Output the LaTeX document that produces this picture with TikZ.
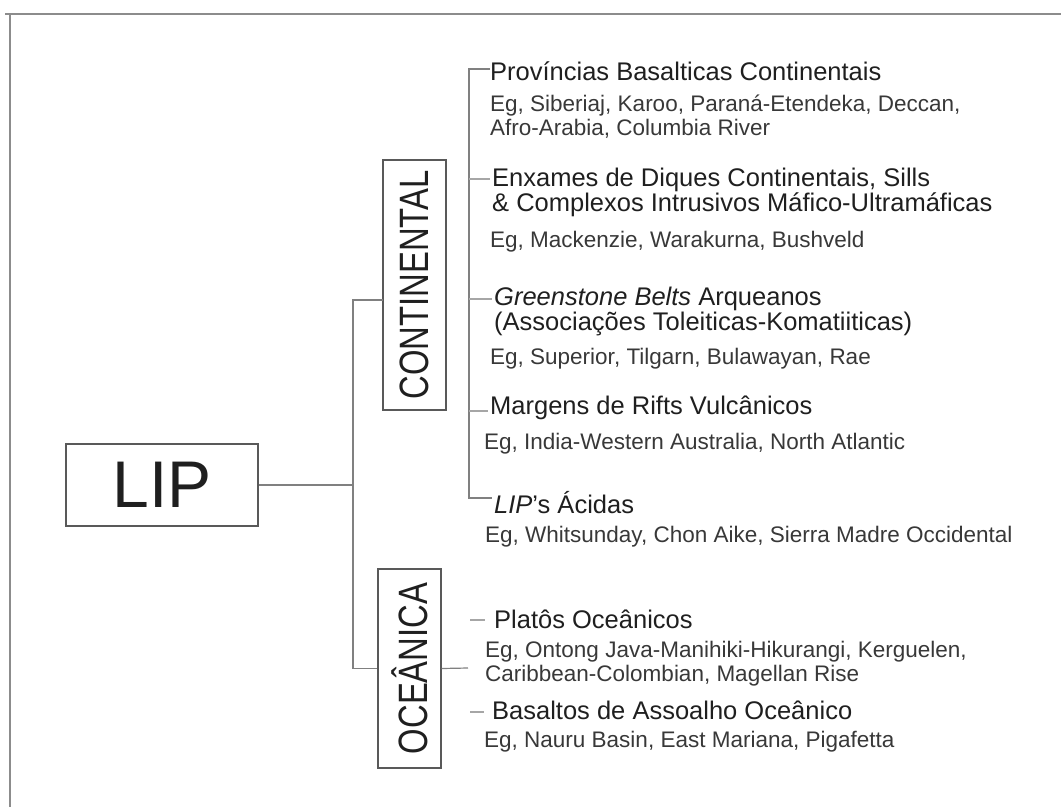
\documentclass[tikz,border=0pt]{standalone}
\usepackage{fontspec}
\setmainfont{Liberation Sans}
\newfontfamily\narrowfont{Liberation Sans}[FakeStretch=0.8]
\usepackage{xcolor}
\usetikzlibrary{positioning}
\definecolor{ink}{gray}{0.12}
\definecolor{inklight}{gray}{0.22}
\definecolor{linegray}{gray}{0.5}
\tikzstyle{group} = [rectangle, draw=black!65, line width=1.2pt, inner sep=0pt, text=ink]
\tikzstyle{heading} = [anchor=base west, inner sep=0pt, align=left, text=ink, font=\fontsize{25.5}{25}\selectfont]
\tikzstyle{example} = [anchor=base west, inner sep=0pt, align=left, text=inklight, font=\fontsize{22.5}{24}\selectfont]
\tikzstyle{line} = [draw=linegray, line width=1.2pt]
\tikzstyle{tick} = [draw=linegray!70, line width=1.2pt, shorten >=2pt]

\begin{document}
\begin{tikzpicture}[x=1pt, y=-1pt]
\useasboundingbox (0,0) rectangle (1061,807);

% frame
\draw[black!45, line width=2pt] (5,14) -- (1061,14);
\draw[black!45, line width=2pt] (10,14) -- (10,807);

% boxes
\node (lip) [group, minimum width=192pt, minimum height=82pt, font=\fontsize{66}{66}\selectfont] at (162,485) {LIP};
\node (cont) [group, rotate=90, minimum width=250pt, minimum height=63pt, font=\narrowfont\fontsize{41}{41}\selectfont] at (414.5,285) {CONTINENTAL};
\node (ocea) [group, rotate=90, minimum width=199pt, minimum height=63pt, font=\narrowfont\fontsize{41}{41}\selectfont] at (409.5,668.5) {OCEÂNICA};

% continental (multi-line nodes sit on their last baseline)
\node (h1) [heading] at (490,80) {Províncias Basalticas Continentais};
\node (e1) [example] at (490,135) {Eg, Siberiaj, Karoo, Paraná-Etendeka, Deccan,\\Afro-Arabia, Columbia River};
\node (h2) [heading] at (492,211) {Enxames de Diques Continentais, Sills\\\& Complexos Intrusivos Máfico-Ultramáficas};
\node (e2) [example] at (490,247) {Eg, Mackenzie, Warakurna, Bushveld};
\node (h3) [heading] at (494,330) {\textit{Greenstone Belts} Arqueanos\\(Associações Toleiticas-Komatiiticas)};
\node (e3) [example] at (490,364) {Eg, Superior, Tilgarn, Bulawayan, Rae};
\node (h4) [heading] at (490,414) {Margens de Rifts Vulcânicos};
\node (e4) [example] at (484,449) {Eg, India-Western Australia, North Atlantic};
\node (h5) [heading] at (494,513) {\textit{LIP}'s Ácidas};
\node (e5) [example] at (485,542) {Eg, Whitsunday, Chon Aike, Sierra Madre Occidental};

% oceanic
\node (h6) [heading] at (494,628) {Platôs Oceânicos};
\node (e6) [example] at (485,681) {Eg, Ontong Java-Manihiki-Hikurangi, Kerguelen,\\Caribbean-Colombian, Magellan Rise};
\node (h7) [heading] at (492,719) {Basaltos de Assoalho Oceânico};
\node (e7) [example] at (484,747) {Eg, Nauru Basin, East Mariana, Pigafetta};

% connectors
\coordinate (fork) at (353,485);
\coordinate (cjoin) at (383,300);
\coordinate (ojoin) at (468,668);
\draw [line] (lip.east) -- (fork);
\draw [line] (cjoin) -| (fork) |- (ocea.north);
\draw [line] (ocea.south) -- (ojoin);

\coordinate (b1) at (469,69);
\coordinate (b2) at (469,179);
\coordinate (b3) at (469,299);
\coordinate (b4) at (469,411);
\coordinate (b5) at (469,498);
\draw [line, shorten >=2pt] (b1 -| h1.west) -- (b1) -- (b5) -- (b5 -| h5.west);
\draw [tick] (b2) -- (b2 -| h2.west);
\draw [tick] (b3) -- (b3 -| h3.west);
\draw [tick] (b4) -- (b4 -| h4.west);

\coordinate (o1) at (470,620);
\coordinate (o2) at (470,712);
\draw [tick, shorten >=9pt] (o1) -- (o1 -| h6.west);
\draw [tick, shorten >=8pt] (o2) -- (o2 -| h7.west);

\end{tikzpicture}
\end{document}
